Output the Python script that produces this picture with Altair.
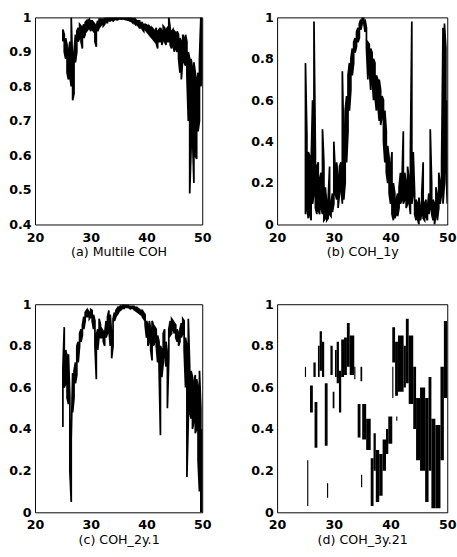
import altair as alt
import pandas as pd

# sample positions (frequency axis), 25.00 .. 50.00 in steps of 0.25
x_grid = [25 + 0.25 * i for i in range(101)]

# (a) Multile COH : lower / upper envelope of the noisy trace at each x
a_lo = [0.93, 0.90, 0.88, 0.84, 0.82, 0.83, 0.80, 0.76, 0.78, 0.87,
        0.90, 0.93, 0.94, 0.93, 0.91, 0.94, 0.95, 0.96, 0.965, 0.97,
        0.96, 0.965, 0.96, 0.93, 0.915, 0.96, 0.97, 0.975, 0.98, 0.975,
        0.98, 0.985, 0.985, 0.99, 0.99, 0.992, 0.99, 0.993, 0.995, 0.993,
        0.995, 0.996, 0.995, 0.996, 0.995, 0.994, 0.993, 0.992, 0.99, 0.99,
        0.985, 0.985, 0.98, 0.98, 0.975, 0.97, 0.97, 0.965, 0.96, 0.965,
        0.96, 0.955, 0.95, 0.945, 0.94, 0.935, 0.93, 0.925, 0.91, 0.93,
        0.93, 0.92, 0.935, 0.93, 0.92, 0.93, 0.93, 0.92, 0.91, 0.92,
        0.90, 0.91, 0.90, 0.88, 0.84, 0.82, 0.88, 0.87, 0.86, 0.83,
        0.70, 0.49, 0.62, 0.66, 0.52, 0.60, 0.59, 0.67, 0.70, 0.80,
        0.82]
a_hi = [0.965, 0.95, 0.94, 0.92, 0.90, 0.93, 1.00, 0.86, 0.90, 0.95,
        0.96, 0.97, 0.98, 0.975, 0.97, 0.98, 0.985, 0.99, 0.99, 0.995,
        0.99, 0.99, 0.985, 0.98, 0.975, 0.99, 0.995, 0.995, 0.995, 0.995,
        0.997, 0.998, 0.998, 1.0, 1.0, 1.0, 1.0, 1.0, 1.0, 1.0,
        1.0, 1.0, 1.0, 1.0, 1.0, 1.0, 1.0, 0.999, 0.999, 0.998,
        0.997, 0.995, 0.995, 0.99, 0.99, 0.99, 0.985, 0.985, 0.98, 0.98,
        0.978, 0.975, 0.975, 0.97, 0.97, 0.965, 0.96, 0.97, 0.96, 0.965,
        0.97, 0.96, 0.975, 0.97, 0.965, 0.97, 1.0, 0.97, 0.96, 0.965,
        0.96, 0.955, 0.96, 0.95, 0.94, 0.93, 0.95, 0.94, 0.95, 0.93,
        0.90, 0.88, 0.88, 0.85, 0.87, 0.84, 0.82, 0.84, 0.88, 1.00,
        1.00]

# (b) COH_1y
b_lo = [0.05, 0.08, 0.03, 0.05, 0.02, 0.10, 0.15, 0.08, 0.05, 0.07,
        0.05, 0.08, 0.05, 0.02, 0.03, 0.02, 0.03, 0.05, 0.04, 0.06,
        0.10, 0.15, 0.12, 0.08, 0.15, 0.18, 0.10, 0.12, 0.20, 0.30,
        0.45, 0.55, 0.65, 0.72, 0.78, 0.83, 0.86, 0.88, 0.90, 0.94,
        0.97, 0.98, 0.93, 0.85, 0.70, 0.75, 0.65, 0.70, 0.60, 0.62,
        0.55, 0.58, 0.50, 0.48, 0.52, 0.40, 0.30, 0.25, 0.20, 0.15,
        0.10, 0.05, 0.02, 0.03, 0.05, 0.04, 0.08, 0.10, 0.12, 0.10,
        0.12, 0.08, 0.10, 0.12, 0.05, 0.10, 0.15, 0.05, 0.02, 0.03,
        0.00, 0.02, 0.05, 0.03, 0.02, 0.04, 0.02, 0.05, 0.08, 0.05,
        0.02, 0.00, 0.05, 0.02, 0.08, 0.10, 0.15, 0.10, 0.20, 0.30,
        0.10]
b_hi = [0.78, 0.43, 0.35, 0.33, 0.30, 0.60, 0.98, 0.35, 0.28, 0.30,
        0.22, 0.25, 0.46, 0.30, 0.18, 0.10, 0.12, 0.28, 0.10, 0.15,
        0.40, 0.25, 0.30, 0.22, 0.28, 0.30, 0.74, 0.40, 0.55, 0.62,
        0.72, 0.78, 0.80, 0.85, 0.88, 0.90, 0.93, 0.95, 0.97, 0.99,
        1.00, 1.00, 0.99, 0.95, 0.88, 0.87, 0.85, 0.83, 0.80, 0.78,
        0.72, 0.70, 0.70, 0.65, 0.62, 0.60, 0.55, 0.45, 0.38, 0.32,
        0.28, 0.35, 0.20, 0.15, 0.12, 0.15, 0.18, 0.25, 0.20, 0.45,
        0.25, 0.20, 0.28, 0.22, 0.35, 0.98, 0.35, 0.15, 0.12, 0.10,
        0.13, 0.08, 0.15, 0.30, 0.10, 0.12, 0.08, 0.15, 0.46, 0.20,
        0.12, 0.10, 0.18, 0.14, 0.25, 0.20, 0.30, 0.95, 0.97, 0.85,
        0.60]

# (c) COH_2y.1
c_lo = [0.41, 0.60, 0.62, 0.55, 0.52, 0.20, 0.05, 0.48, 0.55, 0.62,
        0.66, 0.72, 0.80, 0.82, 0.85, 0.88, 0.92, 0.94, 0.94, 0.93,
        0.94, 0.92, 0.88, 0.80, 0.64, 0.78, 0.85, 0.84, 0.84, 0.82,
        0.80, 0.84, 0.86, 0.88, 0.80, 0.74, 0.80, 0.92, 0.94, 0.95,
        0.96, 0.97, 0.975, 0.98, 0.98, 0.985, 0.985, 0.985, 0.98, 0.98,
        0.98, 0.975, 0.97, 0.965, 0.96, 0.955, 0.95, 0.94, 0.93, 0.90,
        0.84, 0.80, 0.82, 0.78, 0.73, 0.80, 0.82, 0.80, 0.72, 0.70,
        0.37, 0.65, 0.72, 0.76, 0.70, 0.50, 0.74, 0.85, 0.86, 0.88,
        0.86, 0.84, 0.82, 0.80, 0.82, 0.84, 0.86, 0.78, 0.60, 0.17,
        0.45, 0.48, 0.45, 0.40, 0.44, 0.38, 0.40, 0.25, 0.10, 0.00,
        0.00]
c_hi = [0.69, 0.89, 0.78, 0.75, 0.76, 0.55, 0.35, 0.67, 0.68, 0.72,
        0.80, 0.82, 0.86, 0.88, 0.90, 0.94, 0.96, 0.97, 0.97, 0.96,
        0.975, 0.97, 0.95, 0.92, 0.85, 0.88, 0.93, 0.90, 0.88, 0.87,
        0.86, 0.92, 0.94, 0.97, 0.95, 0.85, 0.93, 0.96, 0.97, 0.98,
        0.985, 0.99, 0.99, 0.995, 0.995, 0.995, 0.995, 0.995, 0.99, 0.99,
        0.99, 0.99, 0.985, 0.985, 0.98, 0.975, 0.97, 0.97, 0.96, 0.95,
        0.92, 0.90, 0.92, 0.88, 0.92, 0.90, 0.89, 0.88, 0.85, 0.82,
        0.80, 0.78, 0.86, 0.88, 0.82, 0.76, 0.88, 0.92, 0.93, 0.92,
        0.91, 0.90, 0.88, 0.86, 0.88, 0.91, 0.93, 0.92, 0.84, 0.80,
        0.93, 0.70, 0.68, 0.65, 0.62, 0.66, 0.64, 0.60, 0.68, 0.50,
        0.40]

# (d) COH_3y.21 : vertical clusters of points (x-start, x-end, low, high)
d_x0 = [24.9, 25.3, 25.8, 26.4, 26.6, 27.2, 27.5, 27.9, 28.4, 28.8,
        29.4, 29.8, 30.2, 30.5, 30.9, 31.3, 31.8, 32.3, 32.8, 33.6,
        34.2, 34.7, 34.8, 35.0, 35.7, 36.5, 37.0, 37.4, 38.0, 38.6,
        39.2, 39.6, 40.3, 40.3, 40.8, 41.0, 41.3, 42.3, 42.7, 43.2,
        44.0, 44.5, 45.2, 46.1, 46.7, 47.2, 47.9, 48.8, 49.4]
d_x1 = [25.1, 25.5, 26.3, 26.8, 27.1, 27.5, 27.9, 28.3, 28.9, 29.0,
        29.8, 30.1, 30.5, 30.9, 31.3, 31.8, 32.3, 32.8, 33.6, 33.8,
        34.7, 35.0, 35.0, 35.7, 36.5, 37.0, 37.4, 38.0, 38.6, 39.2,
        39.6, 40.3, 40.8, 40.5, 41.3, 41.2, 42.3, 42.7, 43.2, 44.0,
        44.5, 45.2, 46.1, 46.7, 47.2, 47.9, 48.8, 49.4, 50.0]
d_lo = [0.65, 0.03, 0.48, 0.65, 0.31, 0.65, 0.68, 0.65, 0.32, 0.07,
        0.66, 0.50, 0.65, 0.62, 0.48, 0.65, 0.66, 0.70, 0.66, 0.64,
        0.36, 0.63, 0.12, 0.35, 0.30, 0.03, 0.20, 0.05, 0.08, 0.20,
        0.28, 0.33, 0.72, 0.55, 0.56, 0.44, 0.58, 0.60, 0.62, 0.52,
        0.40, 0.25, 0.20, 0.05, 0.20, 0.02, 0.02, 0.25, 0.55]
d_hi = [0.70, 0.25, 0.61, 0.72, 0.53, 0.80, 0.87, 0.82, 0.62, 0.14,
        0.80, 0.58, 0.78, 0.82, 0.68, 0.83, 0.84, 0.91, 0.85, 0.70,
        0.52, 0.70, 0.18, 0.52, 0.45, 0.26, 0.38, 0.30, 0.28, 0.35,
        0.40, 0.46, 0.89, 0.70, 0.82, 0.46, 0.85, 0.80, 0.93, 0.85,
        0.70, 0.55, 0.60, 0.55, 0.65, 0.45, 0.42, 0.70, 0.92]

FONT = "DejaVu Sans"


def trace_table(lo, hi):
    rows = []
    k = 0
    for i, x in enumerate(x_grid):
        pair = (lo[i], hi[i]) if i % 2 == 0 else (hi[i], lo[i])
        for v in pair:
            rows.append({"x": x, "y": v, "k": k})
            k += 1
    return pd.DataFrame(rows)


def x_enc(field, title):
    return alt.X(field, type="quantitative",
                 scale=alt.Scale(domain=[20, 50], nice=False, zero=False),
                 axis=alt.Axis(values=[20, 30, 40, 50], title=title,
                               labelFlush=False, labelOverlap=False,
                               labelPadding=7, titlePadding=2))


def y_enc(field, ymin, step_vals):
    return alt.Y(field, type="quantitative",
                 scale=alt.Scale(domain=[ymin, 1], nice=False, zero=False),
                 axis=alt.Axis(values=step_vals, format="~g", title=None,
                               labelFlush=False, labelOverlap=False,
                               labelPadding=4, minExtent=30, maxExtent=30))


def line_panel(lo, hi, ymin, yvals, title, w, h):
    return alt.Chart(trace_table(lo, hi)).mark_line(
        color="black", strokeWidth=1.8, clip=True
    ).encode(
        x=x_enc("x", title),
        y=y_enc("y", ymin, yvals),
        order=alt.Order("k:Q"),
    ).properties(width=w, height=h)


y04 = [0.4, 0.5, 0.6, 0.7, 0.8, 0.9, 1.0]
y02 = [0, 0.2, 0.4, 0.6, 0.8, 1.0]

pa = line_panel(a_lo, a_hi, 0.4, y04, "(a) Multile COH", 172, 213)
pb = line_panel(b_lo, b_hi, 0, y02, "(b) COH_1y", 175, 213)
pc = line_panel(c_lo, c_hi, 0, y02, "(c) COH_2y.1", 172, 214)

d_df = pd.DataFrame({"x0": d_x0, "x1": d_x1, "lo": d_lo, "hi": d_hi})
pd_ = alt.Chart(d_df).mark_rect(color="black", clip=True).encode(
    x=x_enc("x0", "(d) COH_3y.21"),
    x2="x1",
    y=y_enc("lo", 0, y02),
    y2="hi",
).properties(width=175, height=214)

chart = alt.vconcat(
    alt.hconcat(pa, pb, spacing=36),
    alt.hconcat(pc, pd_, spacing=36),
    spacing=39,
).properties(
    padding={"left": 5, "top": 3, "right": 0, "bottom": 0},
    background="white",
).configure_view(
    stroke="black", strokeWidth=1
).configure_axis(
    domain=False, ticks=False, grid=False,
    labelFont=FONT, labelFontWeight="bold", labelFontSize=13, labelColor="black",
    titleFont=FONT, titleFontWeight="normal", titleFontSize=13, titleColor="black",
)

chart.save("out.html", embed_options={"renderer": "svg", "actions": False})
